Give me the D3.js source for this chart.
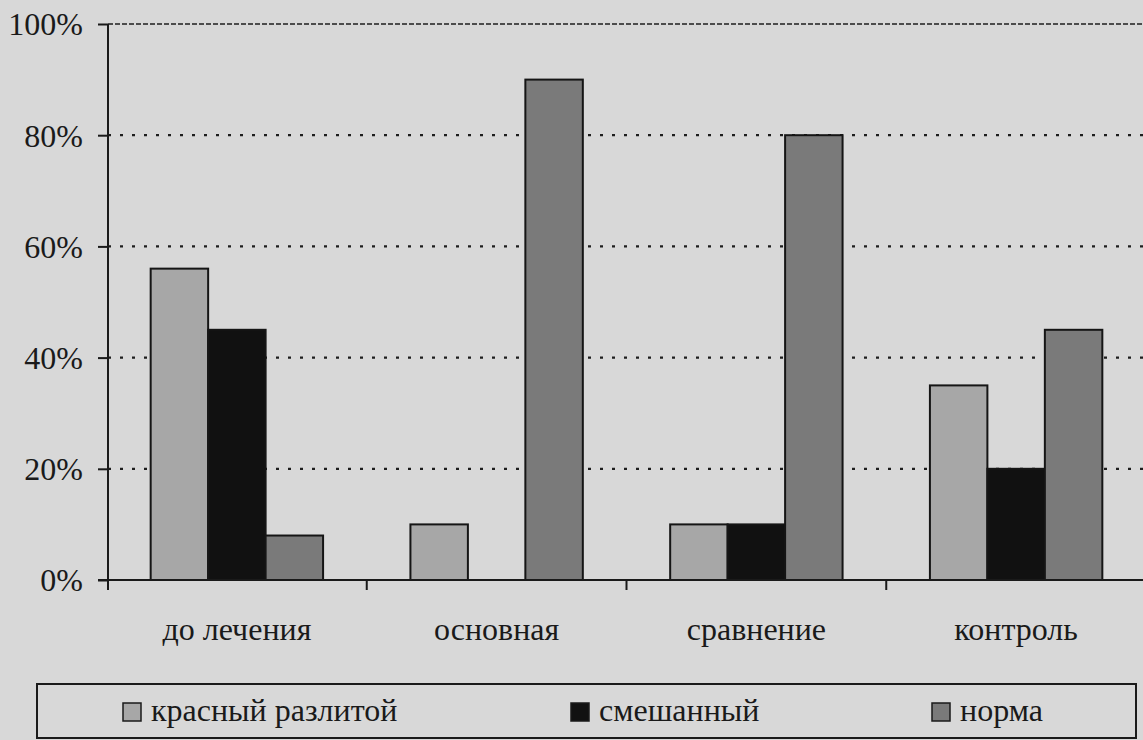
<!DOCTYPE html>
<html lang="ru">
<head>
<meta charset="utf-8">
<script src="https://cdn.jsdelivr.net/npm/d3@7"></script>
<style>
  html, body { margin: 0; padding: 0; background: #d8d8d8; }
  svg { display: block; }
</style>
</head>
<body>
<svg id="chart" width="1143" height="740"></svg>
<script>
// Groups along the horizontal axis
const categories = ["до лечения", "основная", "сравнение", "контроль"];
// Series names (legend order)
const seriesNames = ["красный разлитой", "смешанный", "норма"];
// Share of cases, percent, per group
const krasnyi   = [56, 10, 10, 35];
const smeshanny = [45, 0, 10, 20];
const norma     = [8, 90, 80, 45];
// Vertical axis ticks
const yTicks = [0, 20, 40, 60, 80, 100];

const seriesValues = [krasnyi, smeshanny, norma];
const colors = ["#a7a7a7", "#111111", "#7a7a7a"];
const FONT = "'Liberation Serif', Tinos, 'Times New Roman', Times, 'Nimbus Roman', 'Nimbus Roman No9 L', FreeSerif, 'Noto Serif', 'DejaVu Serif', serif";

const rows = categories.map((c, i) => ({
  category: c,
  values: seriesNames.map((s, k) => ({ series: s, k, value: seriesValues[k][i] }))
}));

const svg = d3.select("#chart");
const W = 1143, H = 740;

svg.append("rect").attr("width", W).attr("height", H).attr("fill", "#d8d8d8");

const plot = { left: 107, right: 1146, top: 24, bottom: 580 };

const x = d3.scaleBand().domain(categories).range([plot.left, plot.right]).paddingInner(0).paddingOuter(0);
const xs = d3.scaleBand().domain(d3.range(seriesNames.length)).range([0, x.bandwidth()]).paddingInner(0).paddingOuter(0.76);
const y = d3.scaleLinear().domain([0, 100]).range([plot.bottom, plot.top]);

// Horizontal gridlines
svg.append("g")
  .selectAll("line")
  .data(yTicks.filter(t => t > 0))
  .join("line")
  .attr("x1", plot.left + 1)
  .attr("x2", W)
  .attr("y1", d => y(d))
  .attr("y2", d => y(d))
  .attr("stroke", "#1e1e1e")
  .attr("stroke-width", d => d === 100 ? 1.6 : 2.2)
  .attr("stroke-dasharray", d => d === 100 ? "5,2" : "3,9");

// Bars
const groups = svg.append("g")
  .selectAll("g")
  .data(rows)
  .join("g")
  .attr("transform", d => `translate(${x(d.category)},0)`);

groups.selectAll("rect")
  .data(d => d.values.filter(v => v.value > 0))
  .join("rect")
  .attr("x", d => xs(d.k))
  .attr("width", xs.bandwidth())
  .attr("y", d => y(d.value))
  .attr("height", d => y(0) - y(d.value))
  .attr("fill", d => colors[d.k])
  .attr("stroke", "#151515")
  .attr("stroke-width", 2);

// Y axis
const yAxis = d3.axisLeft(y)
  .tickValues(yTicks)
  .tickFormat(d => d + "%")
  .tickSize(10)
  .tickPadding(15);

const gy = svg.append("g")
  .attr("transform", `translate(${plot.left + 1},0)`)
  .call(yAxis)
  .attr("font-family", FONT);
gy.select(".domain").remove();
gy.selectAll(".tick line").attr("stroke", "#1a1a1a").attr("stroke-width", 2);
gy.selectAll(".tick text")
  .attr("font-family", FONT)
  .attr("font-size", 32)
  .attr("fill", "#1a1a1a")
  .attr("dy", "0.34em");

svg.append("line")
  .attr("x1", plot.left + 1).attr("x2", plot.left + 1)
  .attr("y1", plot.top).attr("y2", plot.bottom + 10)
  .attr("stroke", "#1a1a1a").attr("stroke-width", 2);

// X axis
const xAxis = d3.axisBottom(x).tickSize(0).tickPadding(0);
const gx = svg.append("g")
  .attr("transform", `translate(0,${plot.bottom})`)
  .call(xAxis)
  .attr("font-family", FONT);
gx.select(".domain").remove();
gx.selectAll(".tick text")
  .attr("font-family", FONT)
  .attr("font-size", 32)
  .attr("fill", "#1a1a1a")
  .attr("dy", 0)
  .attr("y", 60);

svg.append("line")
  .attr("x1", plot.left - 9).attr("x2", W)
  .attr("y1", plot.bottom).attr("y2", plot.bottom)
  .attr("stroke", "#1a1a1a").attr("stroke-width", 2);

// Boundary ticks between groups
svg.append("g")
  .selectAll("line")
  .data(categories.slice(1))
  .join("line")
  .attr("x1", d => x(d)).attr("x2", d => x(d))
  .attr("y1", plot.bottom).attr("y2", plot.bottom + 10)
  .attr("stroke", "#1a1a1a").attr("stroke-width", 2);

// Legend
const legendBox = { x: 37, y: 684, w: 1099, h: 54 };
const legend = svg.append("g");
legend.append("rect")
  .attr("x", legendBox.x).attr("y", legendBox.y)
  .attr("width", legendBox.w).attr("height", legendBox.h)
  .attr("fill", "#d8d8d8")
  .attr("stroke", "#1a1a1a").attr("stroke-width", 2);

const legendX = [123, 571, 932];
const items = legend.selectAll("g.item")
  .data(seriesNames)
  .join("g")
  .attr("class", "item")
  .attr("transform", (d, i) => `translate(${legendX[i]},703)`);

items.append("rect")
  .attr("width", 18).attr("height", 18)
  .attr("fill", (d, i) => colors[i])
  .attr("stroke", "#1a1a1a").attr("stroke-width", 1.5);

items.append("text")
  .attr("x", 28)
  .attr("y", 18)
  .attr("font-family", FONT)
  .attr("font-size", 32)
  .attr("fill", "#1a1a1a")
  .text(d => d);
</script>
</body>
</html>
